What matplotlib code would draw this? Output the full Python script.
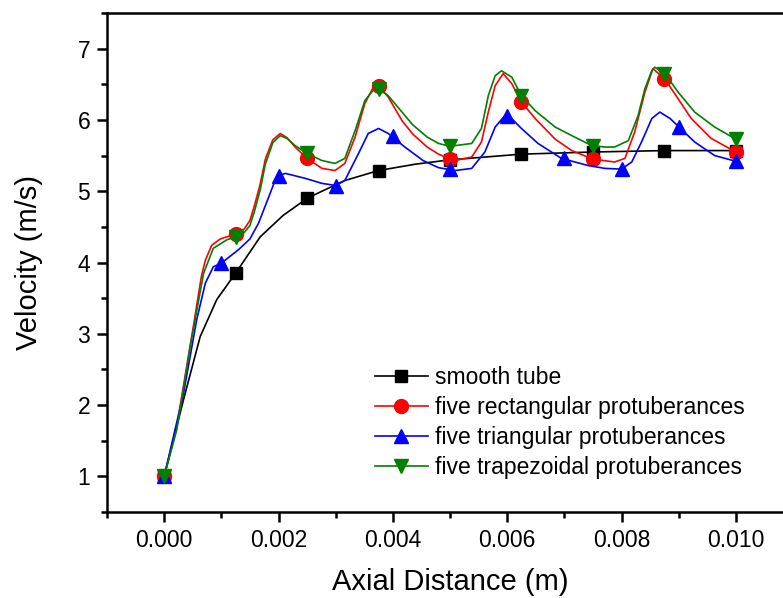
import matplotlib.pyplot as plt
from matplotlib.ticker import MultipleLocator, FormatStrFormatter

plt.rcParams['font.family'] = ['Liberation Sans', 'DejaVu Sans']

# marker positions (m) and velocities (m/s)
x_125 = [0, 0.00125, 0.0025, 0.00375, 0.005, 0.00625, 0.0075, 0.00875, 0.01]
x_100 = [0, 0.001, 0.002, 0.003, 0.004, 0.005, 0.006, 0.007, 0.008, 0.009, 0.01]
smooth_v = [1.0, 3.85, 4.90, 5.29, 5.44, 5.52, 5.55, 5.57, 5.57]
rect_v = [1.0, 4.40, 5.46, 6.48, 5.45, 6.25, 5.45, 6.58, 5.55]
tri_v = [1.0, 3.99, 5.22, 5.08, 5.77, 5.31, 6.06, 5.46, 5.31, 5.90, 5.42]
trap_v = [1.0, 4.36, 5.53, 6.44, 5.63, 6.34, 5.64, 6.65, 5.73]

# curves
smooth_cx = [0, 0.00034, 0.00063, 0.00092, 0.00125, 0.00168, 0.00208, 0.0025,
             0.00276, 0.00316, 0.00375, 0.0044, 0.005, 0.00625, 0.0075, 0.00875, 0.01]
smooth_cv = [1.0, 2.08, 2.96, 3.48, 3.85, 4.36, 4.66, 4.90,
             5.00, 5.15, 5.29, 5.38, 5.44, 5.52, 5.55, 5.57, 5.57]

rect_cx = [0, 0.00022, 0.00051, 0.00065, 0.00072, 0.00083, 0.00098, 0.00125, 0.0014,
           0.0015, 0.00158, 0.00168, 0.00177, 0.0019, 0.00203, 0.00215, 0.00229, 0.0025,
           0.00276, 0.00299, 0.00316, 0.00334, 0.00351, 0.00366, 0.00375, 0.00392,
           0.00416, 0.00435, 0.0046, 0.0048, 0.005, 0.00509, 0.00538, 0.00555, 0.00567,
           0.00579, 0.00593, 0.00608, 0.00625, 0.00649, 0.00684, 0.00713, 0.0075,
           0.00788, 0.00806, 0.00823, 0.00841, 0.00855, 0.00875, 0.00893, 0.00922,
           0.00957, 0.01]
rect_cv = [1.0, 1.70, 3.10, 3.80, 4.03, 4.24, 4.33, 4.40, 4.47,
           4.59, 4.80, 5.10, 5.45, 5.72, 5.81, 5.75, 5.62, 5.46,
           5.32, 5.29, 5.39, 5.76, 6.23, 6.46, 6.48, 6.32,
           5.99, 5.80, 5.62, 5.52, 5.45, 5.43, 5.48, 5.69, 6.11,
           6.48, 6.65, 6.51, 6.25, 6.02, 5.73, 5.57, 5.45,
           5.41, 5.46, 5.83, 6.39, 6.72, 6.58, 6.37, 6.02,
           5.74, 5.55]

tri_cx = [0, 0.00034, 0.00057, 0.00072, 0.00086, 0.001, 0.0013, 0.0015, 0.00165,
          0.00182, 0.00194, 0.002, 0.00212, 0.00247, 0.00276, 0.003, 0.00316, 0.0034,
          0.00357, 0.00375, 0.00392, 0.00421, 0.00453, 0.0048, 0.00509, 0.00538,
          0.00561, 0.00579, 0.00599, 0.00625, 0.00654, 0.00695, 0.00742, 0.00771,
          0.008, 0.00818, 0.00835, 0.00853, 0.00867, 0.00885, 0.00928, 0.00963, 0.01]
tri_cv = [1.0, 2.17, 3.20, 3.71, 3.94, 3.99, 4.18, 4.33, 4.55,
          4.90, 5.15, 5.22, 5.25, 5.18, 5.11, 5.08, 5.15, 5.53,
          5.81, 5.88, 5.81, 5.62, 5.43, 5.33, 5.29, 5.32,
          5.55, 5.90, 6.09, 5.88, 5.67, 5.46, 5.36, 5.32,
          5.31, 5.41, 5.69, 6.02, 6.11, 6.02, 5.69, 5.50, 5.42]

trap_cx = [0, 0.00022, 0.000455, 0.00069, 0.00086, 0.0011, 0.00125, 0.0014, 0.0015,
           0.00158, 0.00168, 0.00177, 0.0019, 0.00203, 0.00215, 0.00229, 0.0025,
           0.00276, 0.00299, 0.00316, 0.00334, 0.00351, 0.00366, 0.00375, 0.00392,
           0.00416, 0.00435, 0.0046, 0.0048, 0.005, 0.00509, 0.00538, 0.00555, 0.00567,
           0.00579, 0.0059, 0.00608, 0.00625, 0.00649, 0.00684, 0.00713, 0.00748,
           0.00771, 0.00788, 0.00812, 0.00829, 0.00841, 0.00853, 0.00858, 0.00876,
           0.00899, 0.00928, 0.00963, 0.01]
trap_cv = [1.0, 1.65, 2.82, 3.85, 4.20, 4.32, 4.36, 4.42, 4.52,
           4.72, 5.02, 5.38, 5.68, 5.78, 5.74, 5.64, 5.53,
           5.43, 5.39, 5.46, 5.85, 6.27, 6.42, 6.44, 6.34,
           6.11, 5.93, 5.76, 5.67, 5.63, 5.64, 5.67, 5.88, 6.34,
           6.62, 6.69, 6.60, 6.34, 6.13, 5.90, 5.78, 5.64,
           5.62, 5.62, 5.71, 6.06, 6.44, 6.69, 6.74, 6.65,
           6.39, 6.11, 5.90, 5.73]

labels = ['smooth tube', 'five rectangular protuberances',
          'five triangular protuberances', 'five trapezoidal protuberances']

fig = plt.figure(figsize=(7.83, 5.98), dpi=100)
ax = fig.add_axes([107 / 783, 86 / 598, 686 / 783, 499 / 598])

series = [
    (smooth_cx, smooth_cv, x_125, smooth_v, 'black', 's', 8.5),
    (rect_cx, rect_cv, x_125, rect_v, 'red', 'o', 10),
    (tri_cx, tri_cv, x_100, tri_v, 'blue', '^', 10),
    (trap_cx, trap_cv, x_125, trap_v, 'green', 'v', 10),
]
for (cx, cv, mx, mv, c, m, ms), lab in zip(series, labels):
    ax.plot(cx, cv, color=c, lw=1.2, solid_joinstyle='round')
    ax.plot(mx, mv, ls='none', marker=m, color=c, ms=ms)
    ax.plot([], [], color=c, lw=1.2, marker=m, ms=ms, label=lab)

ax.set_xlim(-0.001, 0.011)
ax.set_ylim(0.5, 7.5)
ax.xaxis.set_major_locator(MultipleLocator(0.002))
ax.xaxis.set_minor_locator(MultipleLocator(0.001))
ax.xaxis.set_major_formatter(FormatStrFormatter('%.3f'))
ax.yaxis.set_major_locator(MultipleLocator(1))
ax.yaxis.set_minor_locator(MultipleLocator(0.5))

for s in ax.spines.values():
    s.set_linewidth(1.8)
ax.tick_params(which='both', direction='out', width=1.8, labelsize=16.5, top=False, right=False)
ax.tick_params(which='major', length=7, pad=5)
ax.tick_params(which='minor', length=4)

ax.set_xlabel('Axial Distance (m)', fontsize=21, labelpad=12)
ax.set_ylabel('Velocity (m/s)', fontsize=21, labelpad=25)

ax.legend(loc='upper left', bbox_to_anchor=(375 / 783, 1 - 366 / 598),
          bbox_transform=fig.transFigure, frameon=False, fontsize=16.5,
          borderpad=0, borderaxespad=0, handlelength=2.3, handletextpad=0.3,
          labelspacing=0.3)

fig.savefig('out.png', dpi=100)
